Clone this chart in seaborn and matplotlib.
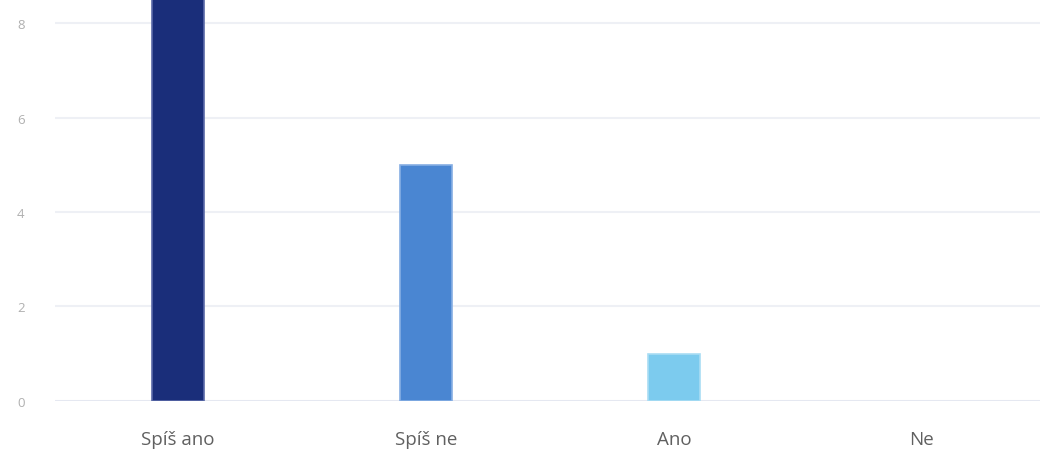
import pandas as pd
import matplotlib
matplotlib.use("Agg")
import matplotlib.pyplot as plt
import seaborn as sns

# data
odpovedi = ['Spíš ano', 'Spíš ne', 'Ano', 'Ne']
pocty = [9, 5, 1, 0]
barvy = ['#1a2e7a', '#4a86d2', '#7ccbee', '#ffffff']
okraje = ['#5a6aa8', '#86aee3', '#a9ddf4', 'none']
y_ticks = [0, 2, 4, 6, 8]


def main():
    df = pd.DataFrame({'odpoved': odpovedi, 'pocet': pocty})

    sns.set_theme(style='white')
    plt.rcParams['font.family'] = ['Open Sans', 'DejaVu Sans']

    fig = plt.figure(figsize=(10.4, 4.52), dpi=100)
    ax = fig.add_axes([0.053, 0.111, 0.947, 0.889])

    sns.barplot(data=df, x='odpoved', y='pocet', hue='odpoved',
                palette=barvy, saturation=1, width=0.21, legend=False,
                ax=ax, zorder=3)
    for patch, ec in zip(ax.patches, okraje):
        patch.set_edgecolor(ec)
        patch.set_linewidth(1.2)

    # osy
    ax.set_xlim(-0.496, 3.476)
    ax.set_ylim(0, 8.51)
    ax.set_yticks(y_ticks)
    ax.yaxis.grid(True, color='#eef0f5', linewidth=1.5, zorder=0)
    ax.set_axisbelow(True)
    sns.despine(ax=ax, left=True, right=True, top=True, bottom=True)
    ax.axhline(0, color='#e3e6f0', linewidth=1.8, zorder=1)

    ax.set(xlabel='', ylabel='')
    ax.tick_params(axis='y', length=0, pad=22, labelsize=9.5, labelcolor='#b0b0b0')
    ax.tick_params(axis='x', length=0, pad=21, labelsize=13.5, labelcolor='#606060')

    plt.savefig('out.png', dpi=100)
    plt.close('all')


if __name__ == '__main__':
    main()
